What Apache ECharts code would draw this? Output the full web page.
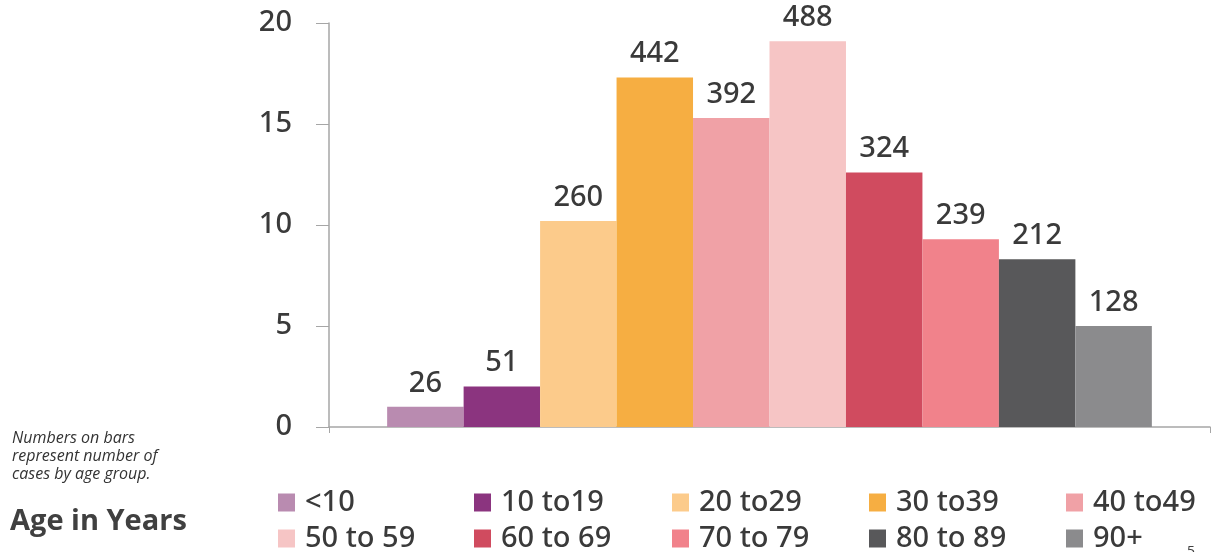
<!DOCTYPE html>
<html>
<head>
<meta charset="utf-8">
<script src="https://cdn.jsdelivr.net/npm/echarts@6/dist/echarts.min.js"></script>
<style>
html,body{margin:0;padding:0;background:#fff;}
#chart{width:1212px;height:552px;}
</style>
</head>
<body>
<div id="chart"></div>
<script>
const groups = ['<10','10 to 19','20 to 29','30 to 39','40 to 49','50 to 59','60 to 69','70 to 79','80 to 89','90+'];
const legendNames = ['<10','10 to19','20 to29','30 to39','40 to49','50 to 59','60 to 69','70 to 79','80 to 89','90+'];
const percents = [1.0, 2.0, 10.2, 17.3, 15.3, 19.1, 12.6, 9.3, 8.3, 5.0];
const cases = [26, 51, 260, 442, 392, 488, 324, 239, 212, 128];
const colors = ['#b98bb0','#8b347f','#fccb8b','#f6ae42','#f0a1a6','#f6c5c5','#d04b5f','#f1828b','#58585a','#8b8b8d'];
const yTicks = [0, 5, 10, 15, 20];

const FONT = '"Noto Sans", "Open Sans", sans-serif';
const TXT = '#3a3a3a';
const W = 500;

const series = groups.map((g, i) => ({
  name: legendNames[i],
  type: 'bar',
  data: [percents[i]],
  barGap: '0%',
  barCategoryGap: '13.2%',
  itemStyle: { color: colors[i] },
  label: {
    show: true, position: 'top', distance: 9,
    formatter: () => String(cases[i]),
    fontFamily: FONT, fontSize: 29, fontWeight: W, color: TXT
  }
}));

const legendCols = [278, 474, 672, 869, 1066];
const legendRows = [488, 524];
const legends = legendNames.map((n, i) => ({
  data: [n],
  left: legendCols[i % 5],
  top: legendRows[Math.floor(i / 5)],
  padding: 0,
  itemWidth: 17, itemHeight: 18, itemGap: 0,
  icon: 'rect',
  textStyle: { fontFamily: FONT, fontSize: 29, fontWeight: W, color: TXT, padding: [0,0,0,5] },
  selectedMode: false
}));

const chart = echarts.init(document.getElementById('chart'), null, {renderer: 'canvas'});
chart.setOption({
  animation: false,
  grid: { left: 329, right: 2, top: 23, bottom: 125, containLabel: false },
  legend: legends,
  xAxis: {
    type: 'category', data: [''],
    axisLine: { lineStyle: { color: '#a6a6a6', width: 1.5 } },
    axisTick: { show: true, length: 6, lineStyle: { color: '#a6a6a6' } },
    axisLabel: { show: false }
  },
  yAxis: {
    type: 'value', min: yTicks[0], max: yTicks[yTicks.length-1], interval: 5,
    splitLine: { show: false },
    axisLine: { show: true, lineStyle: { color: '#a6a6a6', width: 1.5 } },
    axisTick: { show: true, length: 13, lineStyle: { color: '#a6a6a6' } },
    axisLabel: { margin: 37, fontFamily: FONT, fontSize: 29, fontWeight: W, color: TXT }
  },
  graphic: [
    { type: 'text', left: 12, top: 429, style: { text: 'Numbers on bars\nrepresent number of\ncases by age group.', font: 'italic 16px "Open Sans", sans-serif', fill: '#333', lineHeight: 18 } },
    { type: 'text', left: 10, top: 507, style: { text: 'Age in Years', font: 'bold 29px "Open Sans", sans-serif', fill: '#404040' } },
    { type: 'text', left: 1187, top: 545, style: { text: '5', font: '14px "Open Sans", sans-serif', fill: '#404040' } }
  ],
  series: series
});
</script>
</body>
</html>
